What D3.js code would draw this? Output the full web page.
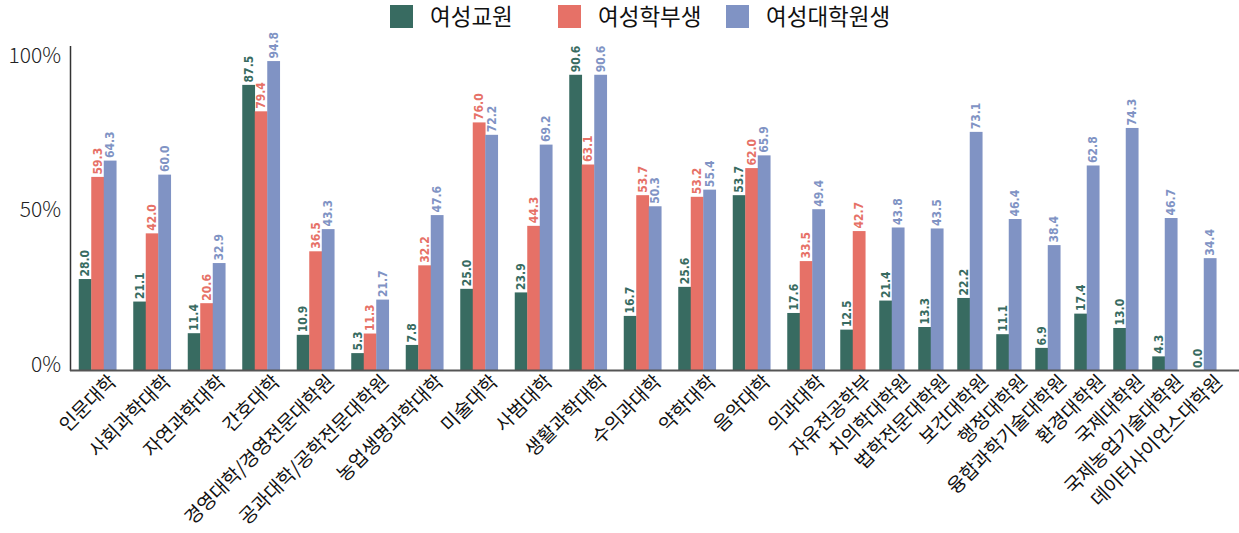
<!DOCTYPE html>
<html><head><meta charset="utf-8">
<script src="https://cdn.jsdelivr.net/npm/d3@7/dist/d3.min.js"></script>
<style>
html,body{margin:0;padding:0;background:#fff;}
svg{display:block;}
</style></head>
<body><svg id="c" width="1239" height="533"></svg>
<script>
const categories = ["인문대학","사회과학대학","자연과학대학","간호대학","경영대학/경영전문대학원","공과대학/공학전문대학원","농업생명과학대학","미술대학","사범대학","생활과학대학","수의과대학","약학대학","음악대학","의과대학","자유전공학부","치의학대학원","법학전문대학원","보건대학원","행정대학원","융합과학기술대학원","환경대학원","국제대학원","국제농업기술대학원","데이터사이언스대학원"];
const faculty = [28.0,21.1,11.4,87.5,10.9,5.3,7.8,25.0,23.9,90.6,16.7,25.6,53.7,17.6,12.5,21.4,13.3,22.2,11.1,6.9,17.4,13.0,4.3,0.0];
const undergrad = [59.3,42.0,20.6,79.4,36.5,11.3,32.2,76.0,44.3,63.1,53.7,53.2,62.0,33.5,42.7,null,null,null,null,null,null,null,null,null];
const graduate = [64.3,60.0,32.9,94.8,43.3,21.7,47.6,72.2,69.2,90.6,50.3,55.4,65.9,49.4,null,43.8,43.5,73.1,46.4,38.4,62.8,74.3,46.7,34.4];
const seriesNames = ["여성교원","여성학부생","여성대학원생"];
const colors = ["#386b61","#e67167","#8093c4"];
const yTicks = [0,50,100];

const svg = d3.select("#c");
const BAR = 12.5, SLOT_PER_BAR = 15.5, SLOT_PAD = 8;
const X0 = 70.25;

const series = [faculty, undergrad, graduate];
const groups = categories.map((c,i)=>{
  const bars = series.map((s,k)=>({k, v:s[i]})).filter(d=>d.v!==null);
  return {c, i, bars, w: SLOT_PER_BAR*bars.length + SLOT_PAD};
});
let acc = 0;
groups.forEach(g=>{g.start=acc; acc+=g.w;});
const x = d3.scaleLinear().domain([0,acc]).range([X0, X0+acc]);
const y = d3.scaleLinear().domain([0,100]).range([370.4,44.1]);
const yLab = d3.scaleLinear().domain([0,100]).range([364,55]);

groups.forEach(g=>{
  const gw = g.bars.length*BAR;
  const left = x(g.start + g.w/2) - gw/2;
  g.center = x(g.start + g.w/2);
  g.bars.forEach((b,j)=>{
    const bx = left + j*BAR;
    svg.append("rect").attr("x",bx).attr("y",y(b.v)).attr("width",BAR+0.3)
      .attr("height",y(0)-y(b.v)).attr("fill",colors[b.k]);
    svg.append("text").attr("transform",`translate(${bx+BAR/2+4.2},${y(b.v)-2.5}) rotate(-90)`)
      .attr("text-anchor","start").attr("fill",colors[b.k])
      .style("font-family","'Liberation Sans Narrow','DejaVu Sans Condensed',sans-serif")
      .style("font-weight","bold").style("font-size","12px")
      .text(b.v.toFixed(1));
  });
});

svg.append("line").attr("x1",70.5).attr("x2",70.5).attr("y1",46).attr("y2",371)
  .attr("stroke","#333").attr("stroke-width",1.5);
svg.append("line").attr("x1",70).attr("x2",1239).attr("y1",370.5).attr("y2",370.5)
  .attr("stroke","#555").attr("stroke-width",2);

yTicks.forEach(t=>{
  svg.append("text").attr("x",61).attr("y",yLab(t)).attr("dy","0.36em")
    .attr("text-anchor","end").attr("fill","#222")
    .style("font-family","'Noto Sans CJK KR','Noto Sans',sans-serif").style("font-weight","300")
    .style("font-size","21px").text(t+"%");
});

groups.forEach(g=>{
  svg.append("text").attr("transform",`translate(${g.center+20},${383}) rotate(-45)`)
    .attr("text-anchor","end").attr("fill","#111")
    .style("font-family","'Noto Sans CJK KR',sans-serif").style("font-size","19.2px")
    .text(g.c);
});

const legX = [390,558,726];
seriesNames.forEach((n,k)=>{
  svg.append("rect").attr("x",legX[k]).attr("y",5).attr("width",23).attr("height",23).attr("fill",colors[k]);
  svg.append("text").attr("x",legX[k]+40).attr("y",17).attr("dy","0.36em").attr("fill","#111")
    .style("font-family","'Noto Sans CJK KR',sans-serif").style("font-size","22.5px").text(n);
});
</script></body></html>
